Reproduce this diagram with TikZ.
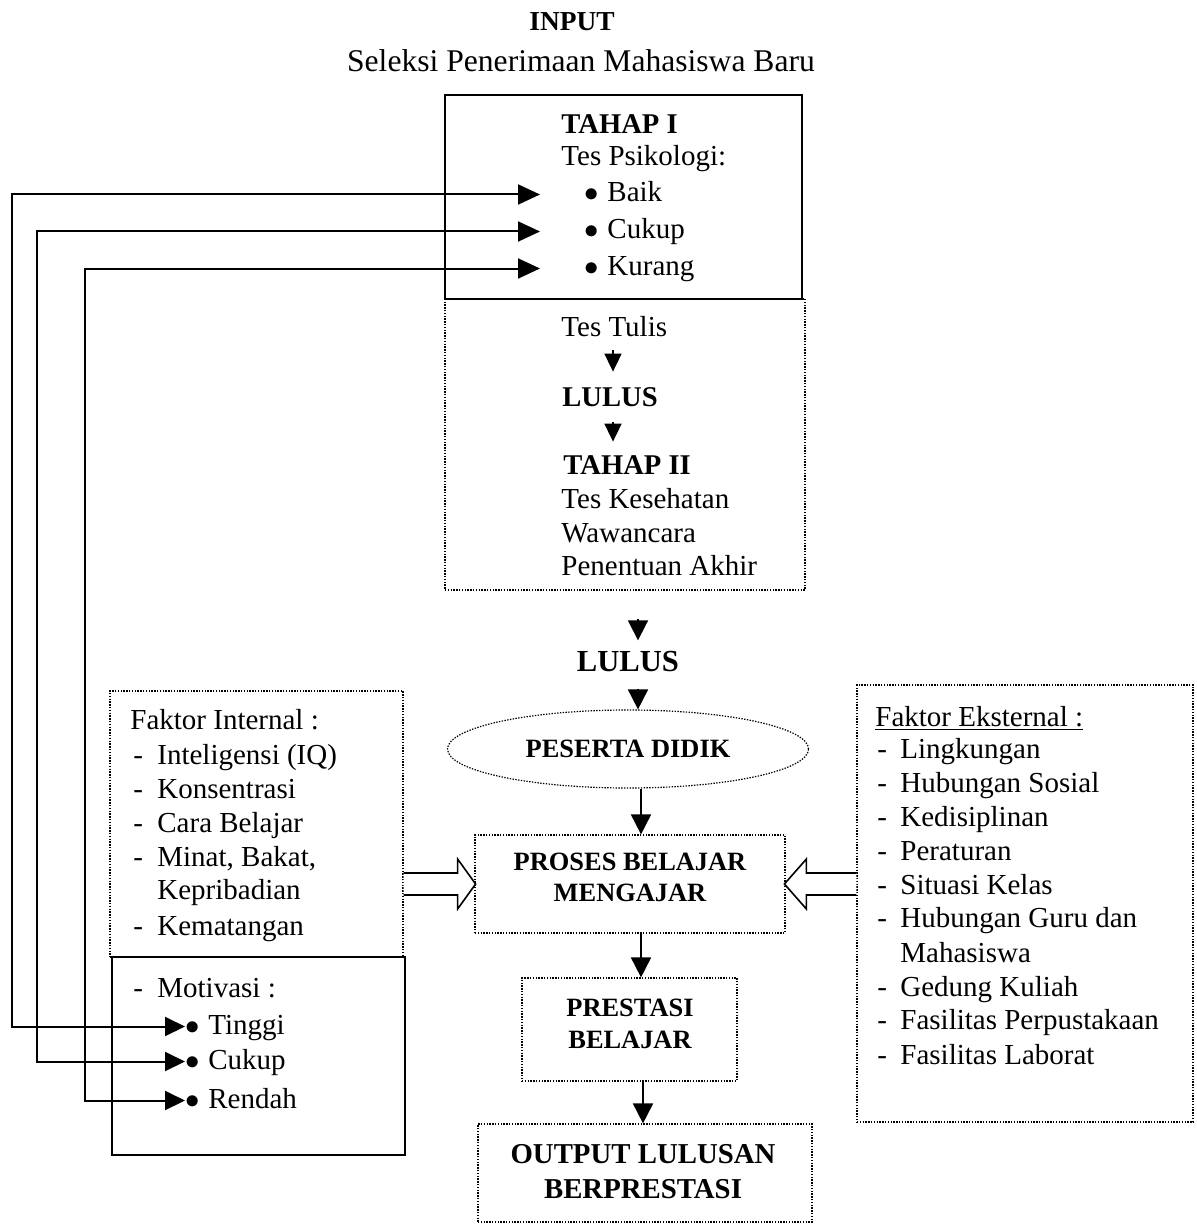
\documentclass[tikz,border=0pt]{standalone}
\usepackage{fontspec}
\setmainfont{Liberation Serif}
\usetikzlibrary{arrows.meta,shapes.geometric,calc}
\newcommand{\bitem}[1]{\makebox[11.5pt][l]{$\bullet$}#1}
\begin{document}
\begin{tikzpicture}[x=0.5pt,y=-0.5pt,
  txt/.style={inner sep=0pt, anchor=base west, font=\fontsize{14.5}{17}\selectfont, text height=11pt, text depth=3.5pt},
  btxt/.style={txt, font=\fontsize{14.3}{17}\selectfont\bfseries},
  dotbox/.style={draw, line width=0.6pt, dash pattern=on 0.7pt off 0.7pt, inner sep=0pt},
  solidbox/.style={draw, line width=0.8pt, inner sep=0pt},
  ctitle/.style={inner sep=0pt, align=center, font=\fontsize{13.2}{15.5}\selectfont\bfseries},
  carrow/.style={line width=0.9pt, -{Triangle[length=10pt,width=10pt]}},
  sarrow/.style={line width=0.9pt, -{Triangle[length=9pt,width=8.5pt]}},
  fb/.style={line width=1pt, {Triangle[length=11pt,width=10pt]}-{Triangle[length=10pt,width=9.5pt]}},
  hollow/.style={line width=0.8pt, fill=white}
]
\useasboundingbox (0,0) rectangle (1197,1225);

% columns
\coordinate (ax) at (613,0);
\coordinate (a1) at (638,0);
\coordinate (a2) at (641,0);
\coordinate (a3) at (643,0);
\coordinate (f1) at (12,0);
\coordinate (f2) at (37,0);
\coordinate (f3) at (85,0);

% title
\node[inner sep=0pt, font=\fontsize{13.7}{16}\selectfont\bfseries] (inp) at (572,22) {INPUT};
\node[inner sep=0pt, font=\fontsize{15.8}{18}\selectfont] (sel) at (581,61) {Seleksi Penerimaan Mahasiswa Baru};

% boxes
\node[dotbox, minimum width=180pt, minimum height=145.5pt] (box2) at (625,444.5) {};
\node[solidbox, fill=white, minimum width=178.5pt, minimum height=102pt] (box1) at (623.5,197) {};

% top box text
\node[btxt] (tahap1) at (561,134) {TAHAP I};
\node[txt] (psi) at (561,166) {Tes Psikologi:};
\node[txt] (baik) at (584,202) {\bitem{Baik}};
\node[txt] (cukup) at (584,239) {\bitem{Cukup}};
\node[txt] (kurang) at (584,276) {\bitem{Kurang}};

% dotted box text
\node[txt] (tulis) at (561,336) {Tes Tulis};
\node[btxt] (lulus1) at (562,406) {LULUS};
\node[btxt] (tahap2) at (563,474) {TAHAP II};
\node[txt] (kes) at (561,508) {Tes Kesehatan};
\node[txt] (waw) at (561,542) {Wawancara};
\node[txt] (pen) at (561,575) {Penentuan Akhir};

\draw[sarrow, shorten <=3.5pt, shorten >=6pt] (tulis.south -| ax) -- (lulus1.north -| ax);
\draw[sarrow, shorten <=4.5pt, shorten >=5pt] (lulus1.south -| ax) -- (tahap2.north -| ax);

% central flow
\node[inner sep=0pt, font=\fontsize{15.3}{18}\selectfont\bfseries] (lulus2) at (628,662) {LULUS};
\node[ellipse, dotbox, minimum width=180.5pt, minimum height=39pt, font=\fontsize{13.2}{15}\selectfont\bfseries] (pd) at (628,749) {PESERTA DIDIK};
\node[dotbox, minimum width=155pt, minimum height=49pt] (proses) at (630,884) {};
\node[ctitle] (prosest) at (630,877) {PROSES BELAJAR\\MENGAJAR};
\node[dotbox, minimum width=107.5pt, minimum height=51.5pt] (prest) at (629.5,1029.5) {};
\node[ctitle, font=\fontsize{13.2}{16}\selectfont\bfseries] (prestt) at (630,1024) {PRESTASI\\BELAJAR};
\node[dotbox, minimum width=167pt, minimum height=49pt] (outp) at (645,1173) {};
\node[ctitle, font=\fontsize{14.4}{17.5}\selectfont\bfseries] (outpt) at (643,1172) {OUTPUT LULUSAN\\BERPRESTASI};

\draw[carrow] ([yshift=-14pt]box2.south -| a1) -- ([yshift=5.5pt]lulus2.north -| a1);
\draw[carrow] ([yshift=-8pt]lulus2.south -| a1) -- (pd.north -| a1);
\draw[carrow] (pd.south -| a2) -- (proses.north -| a2);
\draw[carrow] (proses.south -| a2) -- (prest.north -| a2);
\draw[carrow] (prest.south -| a3) -- (outp.north -| a3);

% internal factors
\node[dotbox, minimum width=146.5pt, minimum height=133pt] (intl) at (256.5,824) {};
\node[solidbox, minimum width=146.5pt, minimum height=99pt] (motiv) at (258.5,1056) {};
\node[txt] (fi) at (130,729) {Faktor Internal :};
\node[txt] (i1) at (133,764) {\makebox[12pt][l]{-}Inteligensi (IQ)};
\node[txt] (i2) at (133,798) {\makebox[12pt][l]{-}Konsentrasi};
\node[txt] (i3) at (133,832) {\makebox[12pt][l]{-}Cara Belajar};
\node[txt] (i4) at (133,866) {\makebox[12pt][l]{-}Minat, Bakat,};
\node[txt] (i5) at (157,899) {Kepribadian};
\node[txt] (i6) at (133,935) {\makebox[12pt][l]{-}Kematangan};
\node[txt] (mot) at (133,997) {\makebox[12pt][l]{-}Motivasi :};
\node[txt] (tinggi) at (185,1034) {\bitem{Tinggi}};
\node[txt] (cukup2) at (185,1069) {\bitem{Cukup}};
\node[txt] (rendah) at (185,1108) {\bitem{Rendah}};

% external factors
\node[dotbox, minimum width=168pt, minimum height=218.5pt] (ext) at (1025,903.5) {};
\node[txt] (fe) at (875,726) {\underline{Faktor Eksternal :}};
\node[txt] (e1) at (877,758) {\makebox[11.5pt][l]{-}Lingkungan};
\node[txt] (e2) at (877,792) {\makebox[11.5pt][l]{-}Hubungan Sosial};
\node[txt] (e3) at (877,826) {\makebox[11.5pt][l]{-}Kedisiplinan};
\node[txt] (e4) at (877,860) {\makebox[11.5pt][l]{-}Peraturan};
\node[txt] (e5) at (877,894) {\makebox[11.5pt][l]{-}Situasi Kelas};
\node[txt] (e6) at (877,927) {\makebox[11.5pt][l]{-}Hubungan Guru dan};
\node[txt] (e7) at (900,962) {Mahasiswa};
\node[txt] (e8) at (877,996) {\makebox[11.5pt][l]{-}Gedung Kuliah};
\node[txt] (e9) at (877,1029) {\makebox[11.5pt][l]{-}Fasilitas Perpustakaan};
\node[txt] (e10) at (877,1064) {\makebox[11.5pt][l]{-}Fasilitas Laborat};

% hollow arrows
\draw[hollow] (intl.east |- proses.west) ++(0,-11) -- ++(54,0) -- ++(0,-14) -- ++(18,25) -- ++(-18,25) -- ++(0,-14) -- ++(-54,0);
\draw[hollow] (ext.west |- proses.east) ++(0,-11) -- ++(-50,0) -- ++(0,-14) -- ++(-22,25) -- ++(22,25) -- ++(0,-14) -- ++(50,0);

% feedback connectors
\draw[fb] ([xshift=-22pt]baik.west) -- (baik.west -| f1) -- (tinggi.west -| f1) -- (tinggi.west);
\draw[fb] ([xshift=-22pt]cukup.west) -- (cukup.west -| f2) -- (cukup2.west -| f2) -- (cukup2.west);
\draw[fb] ([xshift=-22pt]kurang.west) -- (kurang.west -| f3) -- (rendah.west -| f3) -- (rendah.west);
\end{tikzpicture}
\end{document}
